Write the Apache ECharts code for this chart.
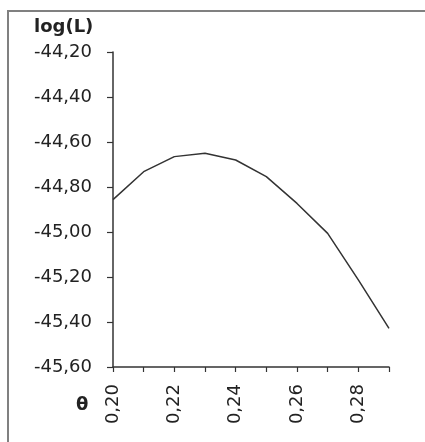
<!DOCTYPE html>
<html>
<head>
<meta charset="utf-8">
<script src="https://cdn.jsdelivr.net/npm/echarts@6/dist/echarts.min.js"></script>
<style>
html,body{margin:0;padding:0;background:#fff;}
#chart{width:425px;height:442px;}
</style>
</head>
<body>
<div id="chart"></div>
<script>
// Data
var thetaValues = [0.20, 0.21, 0.22, 0.23, 0.24, 0.25, 0.26, 0.27, 0.28, 0.29];
var logLValues = [-44.856, -44.732, -44.665, -44.650, -44.680, -44.754, -44.873, -45.006, -45.213, -45.428];
var yTicks = [-45.6, -45.4, -45.2, -45.0, -44.8, -44.6, -44.4, -44.2];
var yAxisTitle = 'log(L)';
var xAxisTitle = 'θ';

var categories = thetaValues.map(function (v) { return v.toFixed(2).replace('.', ','); });
var font = 'DejaVu Sans';
var textColor = '#222';

var chart = echarts.init(document.getElementById('chart'), null, {renderer: 'canvas'});
chart.setOption({
  animation: false,
  backgroundColor: '#ffffff',
  grid: {left: 113, top: 52, right: 36, bottom: 75, containLabel: false},
  xAxis: {
    type: 'category',
    data: categories,
    boundaryGap: false,
    axisLine: {show: true, lineStyle: {color: '#333', width: 1.5}},
    axisTick: {show: true, interval: 0, length: 5, lineStyle: {color: '#333', width: 1.2}},
    axisLabel: {
      interval: 1, rotate: 90, margin: 17,
      fontFamily: font, fontSize: 18, color: textColor
    },
    splitLine: {show: false}
  },
  yAxis: {
    type: 'value',
    min: yTicks[0],
    max: yTicks[yTicks.length - 1],
    interval: 0.2,
    axisLine: {show: true, lineStyle: {color: '#333', width: 1.5}},
    axisTick: {show: true, length: 6, lineStyle: {color: '#333', width: 1.2}},
    axisLabel: {
      margin: 21, fontFamily: font, fontSize: 18, color: textColor,
      formatter: function (v) { return v.toFixed(2).replace('.', ','); }
    },
    splitLine: {show: false}
  },
  series: [{
    type: 'line',
    data: logLValues,
    showSymbol: false,
    smooth: false,
    lineStyle: {color: '#333', width: 1.5}
  }],
  graphic: [
    {type: 'rect', shape: {x: 8, y: 11, width: 600, height: 600},
     style: {fill: null, stroke: '#808080', lineWidth: 2}, silent: true, z: 100},
    {type: 'text', left: 34, top: 18,
     style: {text: yAxisTitle, font: 'bold 18px "DejaVu Sans"', fill: textColor}},
    {type: 'text', left: 76, top: 396,
     style: {text: xAxisTitle, font: 'bold 18px "DejaVu Sans"', fill: textColor}}
  ]
});
</script>
</body>
</html>
